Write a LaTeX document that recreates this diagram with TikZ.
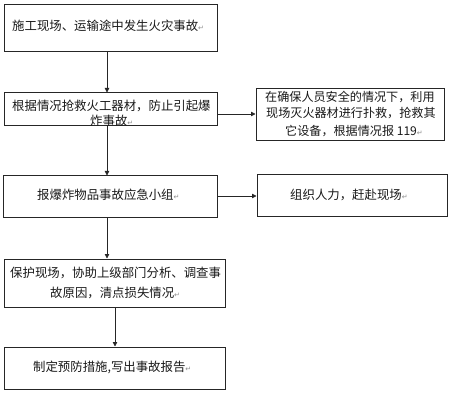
\documentclass[tikz,border=0pt]{standalone}
\usepackage{fontspec}
\setmainfont{Noto Sans CJK SC}
\newfontfamily\djv{DejaVu Sans}
\usetikzlibrary{arrows.meta}
\newcommand\rmark{{\djv\color{black!45}\fontsize{7}{7}\selectfont ↵}}
\tikzset{
  boxnode/.style={draw=black!85, line width=1pt, rectangle, inner sep=0pt},
  txt/.style={inner sep=0pt, anchor=west, font=\fontsize{12.4}{16}\selectfont, text=black!90},
  conn/.style={line width=0.8pt, draw=black!85, -{Triangle[length=4.5pt,width=4.5pt]}}
}
\begin{document}
\begin{tikzpicture}[x=1pt,y=-1pt]
\useasboundingbox[fill=white] (0,0) rectangle (450,393);
% boxes
\node[boxnode, minimum width=213pt, minimum height=47pt] (b1) at (110.5,28.5) {};
\node[boxnode, minimum width=213pt, minimum height=33pt] (b2) at (110.5,109.5) {};
\node[boxnode, minimum width=188pt, minimum height=52pt] (b3) at (350,115) {};
\node[boxnode, minimum width=214pt, minimum height=41pt] (b4) at (110,196.5) {};
\node[boxnode, minimum width=190pt, minimum height=41pt] (b5) at (352,195.5) {};
\node[boxnode, minimum width=221pt, minimum height=48pt] (b6) at (114.5,283) {};
\node[boxnode, minimum width=221pt, minimum height=42pt] (b7) at (114.5,368) {};
% texts
\node[txt] (t1) at (12,26) {施工现场、运输途中发生火灾事故\rmark};
\node[txt] (t2a) at (12,105.5) {根据情况抢救火工器材，防止引起爆};
\node[txt] (t2b) at (90,120.5) {炸事故\rmark};
\node[txt, font=\fontsize{12.1}{16}\selectfont] (t3a) at (265,97) {在确保人员安全的情况下，利用};
\node[txt, font=\fontsize{12.1}{16}\selectfont] (t3b) at (266,113.5) {现场灭火器材进行扑救，抢救其};
\node[txt, font=\fontsize{12.1}{16}\selectfont] (t3c) at (285,131) {它设备，根据情况报 119\rmark};
\node[txt] (t4) at (37,195) {报爆炸物品事故应急小组\rmark};
\node[txt] (t5) at (290,195) {组织人力，赶赴现场\rmark};
\node[txt] (t6a) at (10,273) {保护现场，协助上级部门分析、调查事};
\node[txt] (t6b) at (50,293) {故原因，清点损失情况\rmark};
\node[txt] (t7) at (33,367) {制定预防措施,写出事故报告\rmark};
% connectors
\coordinate (xa) at (107,0);
\coordinate (xb) at (115,0);
\coordinate (ya) at (0,114);
\coordinate (yb) at (0,196);
\draw[conn] (b1.south -| xa) -- (b2.north -| xa);
\draw[conn] (b2.south -| xa) -- (b4.north -| xa);
\draw[conn] (b4.south -| xa) -- (b6.north -| xa);
\draw[conn] (b6.south -| xb) -- (b7.north -| xb);
\draw[conn] (b2.east |- ya) -- (b3.west |- ya);
\draw[conn] (b4.east |- yb) -- (b5.west |- yb);
\end{tikzpicture}
\end{document}
